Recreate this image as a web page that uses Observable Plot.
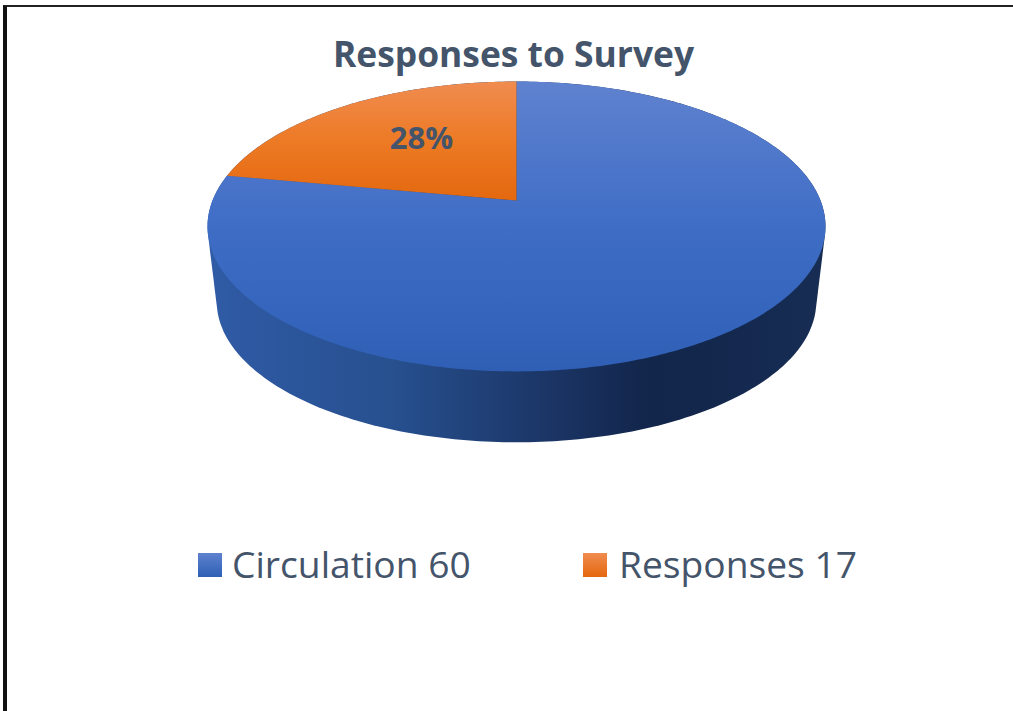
<!DOCTYPE html>
<html>
<head>
<meta charset="utf-8">
<script src="https://cdn.jsdelivr.net/npm/d3@7"></script>
<script src="https://cdn.jsdelivr.net/npm/@observablehq/plot@0.6"></script>
<style>
  html, body { margin: 0; padding: 0; background: #fff; }
  #page { position: relative; width: 1013px; height: 711px; overflow: hidden; font-family: "Open Sans", "Noto Sans", sans-serif; color: #44546a; }
  #edge { position: absolute; left: 3px; top: 5px; width: 1010px; height: 706px; box-sizing: border-box; border-left: 4px solid #111; border-top: 2px solid #222; }
  h1 { position: absolute; left: 0; top: 28px; width: 1027px; margin: 0; text-align: center; font-size: 35.4px; line-height: 50px; font-weight: 700; }
  #chart { position: absolute; left: 0; top: 78px; }
  #legend span { position: absolute; white-space: nowrap; }
  .swatch { width: 24px; height: 24px; top: 553px; }
  .entry { top: 540px; font-size: 37.2px; line-height: 48px; }
</style>
</head>
<body>
<div id="page">
  <div id="edge"></div>
  <h1 id="title"></h1>
  <div id="chart"></div>
  <div id="legend"></div>
</div>
<script>
// Data
const titleText = "Responses to Survey";
const categories = ["Circulation", "Responses"];
const values = [60, 17];
const faceColors = [["#5f82cf", "#3f6dc6", "#2e5fb5"], ["#f08c50", "#ed7a25", "#e4680e"]];
const wallStops = [["0%", "#305ba6"], ["30%", "#27508f"], ["55%", "#1b3566"], ["72%", "#12254a"], ["100%", "#172d54"]];
const textColor = "#44546a";
const fontFamily = '"Open Sans", "Noto Sans", sans-serif';

// Perspective view of a flat disc seen from above
const keystone = 0.179, halfWidth = 304, halfDepth = 140.3;
const project = (turn, scale = 1, drop = 0) => {
  const X = Math.sin(turn * 2 * Math.PI), Y = Math.cos(turn * 2 * Math.PI), w = 1 + keystone * Y;
  return {x: scale * halfWidth * X / w, y: scale * halfDepth * Y / w - drop};
};
const arcPoints = (from, to, scale, drop) =>
  d3.range(0, 361).map(i => project(from + (to - from) * i / 360, scale, drop));

const total = d3.sum(values);
let running = 0;
const slices = categories.map((name, i) => {
  const from = running / total; running += values[i]; const to = running / total;
  return {name, from, to, points: [{x: 0, y: 0}, ...arcPoints(from, to, 1, 0)]};
});

// Rim: outline around the top disc and the slightly smaller base disc
const rim = d3.polygonHull([...arcPoints(0, 1, 1, 0), ...arcPoints(0, 1, 0.97, 76)].map(p => [p.x, p.y]))
  .map(([x, y]) => ({x, y}));

// Percentage label
const share = values[1] / values[0];
const mid = (slices[1].from + slices[1].to) / 2;
const labelAt = project(mid, 0.58);

const defs = () => {
  const d = d3.create("svg:defs");
  const grad = id => d.append("linearGradient").attr("id", id);
  faceColors.forEach((stops, i) => {
    const g = grad(`face${i}`).attr("x1", 0).attr("x2", 0).attr("y1", 0).attr("y2", 1);
    stops.forEach((c, j) => g.append("stop").attr("offset", j / (stops.length - 1)).attr("stop-color", c));
  });
  const w = grad("wall");
  wallStops.forEach(([o, c]) => w.append("stop").attr("offset", o).attr("stop-color", c));
  return d.node();
};

const chart = Plot.plot({
  width: 1013,
  height: 380,
  margin: 0,
  x: {domain: [-516, 497], range: [0, 1013], axis: null},
  y: {domain: [-258, 122], range: [380, 0], axis: null},
  style: {background: "transparent", fontFamily},
  marks: [
    defs,
    Plot.line(rim, {x: "x", y: "y", fill: "url(#wall)", stroke: "none"}),
    ...slices.map((s, i) => Plot.line(s.points, {x: "x", y: "y", fill: `url(#face${i})`, stroke: "none"})),
    Plot.text([share], {
      x: () => labelAt.x,
      y: () => labelAt.y,
      dx: 4,
      dy: -6,
      text: d => d3.format(".0%")(d),
      fontSize: 31, fontWeight: 700, fill: textColor, fontFamily
    })
  ]
});
document.getElementById("chart").append(chart);
document.getElementById("title").textContent = titleText;

// Legend
const legend = document.getElementById("legend");
const slots = [{sw: 198, tx: 232}, {sw: 583, tx: 619}];
categories.forEach((name, i) => {
  const sw = document.createElement("span");
  sw.className = "swatch";
  sw.style.left = slots[i].sw + "px";
  sw.style.background = `linear-gradient(${faceColors[i][0]}, ${faceColors[i][2]})`;
  const t = document.createElement("span");
  t.className = "entry";
  t.style.left = slots[i].tx + "px";
  t.textContent = `${name} ${values[i]}`;
  legend.append(sw, t);
});
</script>
</body>
</html>
